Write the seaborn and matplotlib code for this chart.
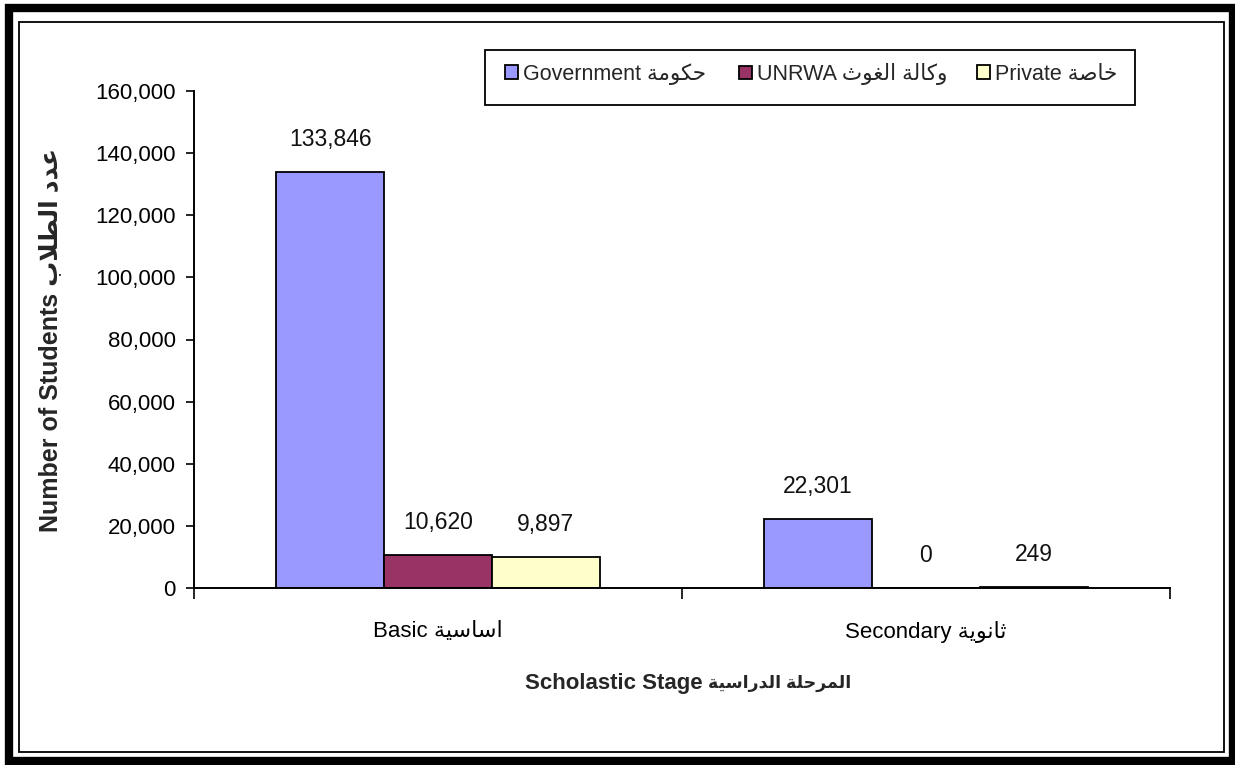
import numpy as np
import pandas as pd
import matplotlib
matplotlib.use("Agg")
import matplotlib.pyplot as plt
from matplotlib.patches import Rectangle
import seaborn as sns

# ---------------- data ----------------
stages_en = ["Basic", "Secondary"]
stages_ar = ["اساسية", "ثانوية"]
sectors_en = ["Government", "UNRWA", "Private"]
sectors_ar = ["حكومة", "وكالة الغوث", "خاصة"]
government = [133846, 22301]
unrwa = [10620, 0]
private = [9897, 249]
colors = ["#9999FF", "#993366", "#FFFFCC"]
yticks = [0, 20000, 40000, 60000, 80000, 100000, 120000, 140000, 160000]
ylabel_en, ylabel_ar = "Number of Students", "عدد الطلاب"
xlabel_en, xlabel_ar = "Scholastic Stage", "المرحلة الدراسية"

# ------------- simple Arabic shaping (presentation forms + visual order) -------------
FORMS = {
    '\u0627': ('\uFE8D', '\uFE8E', None, None),
    '\u0628': ('\uFE8F', '\uFE90', '\uFE91', '\uFE92'),
    '\u0629': ('\uFE93', '\uFE94', None, None),
    '\u062A': ('\uFE95', '\uFE96', '\uFE97', '\uFE98'),
    '\u062B': ('\uFE99', '\uFE9A', '\uFE9B', '\uFE9C'),
    '\u062C': ('\uFE9D', '\uFE9E', '\uFE9F', '\uFEA0'),
    '\u062D': ('\uFEA1', '\uFEA2', '\uFEA3', '\uFEA4'),
    '\u062E': ('\uFEA5', '\uFEA6', '\uFEA7', '\uFEA8'),
    '\u062F': ('\uFEA9', '\uFEAA', None, None),
    '\u0631': ('\uFEAD', '\uFEAE', None, None),
    '\u0633': ('\uFEB1', '\uFEB2', '\uFEB3', '\uFEB4'),
    '\u0635': ('\uFEB9', '\uFEBA', '\uFEBB', '\uFEBC'),
    '\u0637': ('\uFEC1', '\uFEC2', '\uFEC3', '\uFEC4'),
    '\u0639': ('\uFEC9', '\uFECA', '\uFECB', '\uFECC'),
    '\u063A': ('\uFECD', '\uFECE', '\uFECF', '\uFED0'),
    '\u0643': ('\uFED9', '\uFEDA', '\uFEDB', '\uFEDC'),
    '\u0644': ('\uFEDD', '\uFEDE', '\uFEDF', '\uFEE0'),
    '\u0645': ('\uFEE1', '\uFEE2', '\uFEE3', '\uFEE4'),
    '\u0646': ('\uFEE5', '\uFEE6', '\uFEE7', '\uFEE8'),
    '\u0648': ('\uFEED', '\uFEEE', None, None),
    '\u064A': ('\uFEF1', '\uFEF2', '\uFEF3', '\uFEF4'),
}


def shape_ar(text):
    toks = []
    i = 0
    while i < len(text):
        if text[i] == '\u0644' and i + 1 < len(text) and text[i + 1] == '\u0627':
            toks.append('LA')
            i += 2
        else:
            toks.append(text[i])
            i += 1
    out = []
    for j, t in enumerate(toks):
        prev = toks[j - 1] if j > 0 else None
        nxt = toks[j + 1] if j + 1 < len(toks) else None
        prev_joins = prev in FORMS and FORMS[prev][2] is not None
        if t == 'LA':
            out.append('\uFEFC' if prev_joins else '\uFEFB')
            continue
        if t not in FORMS:
            out.append(t)
            continue
        iso, fin, ini, med = FORMS[t]
        next_joins = ini is not None and (nxt in FORMS or nxt == 'LA')
        if prev_joins and next_joins:
            out.append(med)
        elif prev_joins:
            out.append(fin)
        elif next_joins:
            out.append(ini)
        else:
            out.append(iso)
    return ''.join(reversed(out))


# ---------------- style ----------------
sns.set_theme(style="white")
FAM = ['Liberation Sans', 'DejaVu Sans']
plt.rcParams['font.family'] = FAM

df = pd.DataFrame({
    "stage": np.repeat(stages_en, 3),
    "sector": sectors_en * 2,
    "students": [government[0], unrwa[0], private[0], government[1], unrwa[1], private[1]],
})

W, H = 1235, 765
fig = plt.figure(figsize=(W / 100, H / 100), dpi=100)
fig.patch.set_facecolor("white")
ax = fig.add_axes([194 / W, (H - 588) / H, (1170 - 194) / W, (588 - 91) / H])

sns.barplot(data=df, x="stage", y="students", hue="sector", order=stages_en,
            hue_order=sectors_en, palette=colors, saturation=1, width=0.663,
            edgecolor="black", linewidth=1.3, errorbar=None, legend=False, ax=ax)

ax.set_xlim(-0.5, 1.5)
ax.set_ylim(0, 160000)
ax.set_yticks(yticks)
ax.set_yticklabels([f"{v:,}" for v in yticks], fontsize=16)
ax.set_xticks([0, 1])
ax.set_xticklabels([f"{e} {shape_ar(a)}" for e, a in zip(stages_en, stages_ar)], fontsize=16)
ax.set_xticks([-0.5, 0.5, 1.5], minor=True)
ax.tick_params(axis='x', which='major', length=0, pad=24, colors='black')
ax.tick_params(axis='x', which='minor', length=8, width=1.2, direction='out', color='black', bottom=True)
ax.tick_params(axis='y', which='major', length=6, width=1.2, direction='out', pad=7, colors='black', left=True)
ax.set_xlabel("")
ax.set_ylabel("")
for s in ["top", "right"]:
    ax.spines[s].set_visible(False)
for s in ["left", "bottom"]:
    ax.spines[s].set_color("black")
    ax.spines[s].set_linewidth(1.4)

for cont in ax.containers:
    ax.bar_label(cont, labels=[f"{v:,.0f}" for v in cont.datavalues], padding=15,
                 fontsize=16.5, color="#111111")

# axis titles
fig.text(50 / W, 1 - 340 / H, f"{ylabel_en} {shape_ar(ylabel_ar)}", rotation=90,
         ha="center", va="center", fontsize=18, fontweight="bold")
fig.text(703 / W, 1 - 683 / H, xlabel_en, ha="right", va="center", fontsize=16, fontweight="bold")
fig.text(708 / W, 1 - 683 / H, shape_ar(xlabel_ar), ha="left", va="center", fontsize=12.5,
         fontweight="bold")

# legend (box + three entries)
fig.patches.append(Rectangle((485 / W, 1 - 105 / H), 650 / W, 55 / H, transform=fig.transFigure,
                             fill=False, edgecolor="black", linewidth=1.3))
leg_x = [505, 739, 977]
for k in range(3):
    h = Rectangle((0, 0), 1, 1, facecolor=colors[k], edgecolor="black", linewidth=1.3)
    lg = fig.legend([h], [f"{sectors_en[k]} {shape_ar(sectors_ar[k])}"], loc="center left",
                    bbox_to_anchor=(leg_x[k] / W, 1 - 74 / H), frameon=False, fontsize=15.5,
                    handlelength=0.6, handleheight=0.6, handletextpad=0.25,
                    borderpad=0, borderaxespad=0)

# outer frames
fig.patches.append(Rectangle((9 / W, 4 / H), (1233 - 9) / W, (757 - 4) / H, transform=fig.transFigure,
                             fill=False, edgecolor="black", linewidth=6))
fig.patches.append(Rectangle((19 / W, (H - 752) / H), (1224 - 19) / W, (752 - 22) / H,
                             transform=fig.transFigure, fill=False, edgecolor="black", linewidth=1.3))

fig.savefig("out.png", dpi=100)
